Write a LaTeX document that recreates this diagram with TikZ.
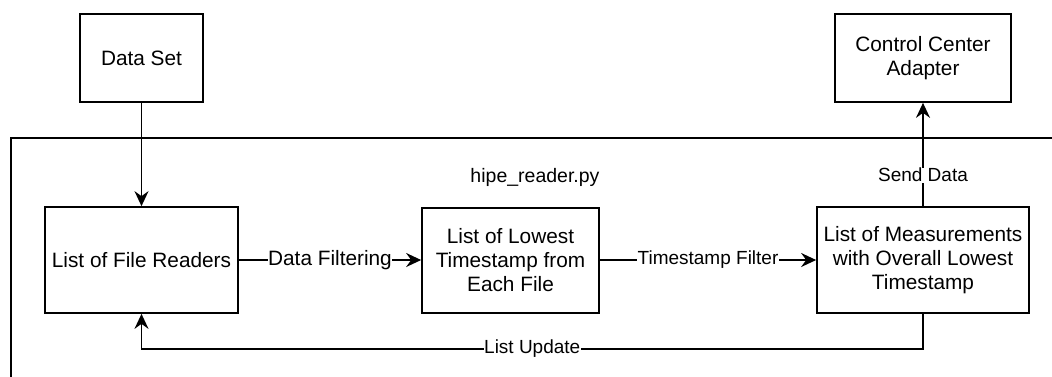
\documentclass[tikz,border=0pt]{standalone}
\usepackage{fontspec}
\setmainfont{Liberation Sans}
\usetikzlibrary{arrows.meta}
\begin{document}
\begin{tikzpicture}[x=1pt,y=-1pt,
  box/.style={draw,line width=1.7pt,inner sep=0pt,align=center,font=\fontsize{20.8}{24}\selectfont},
  conn/.style={line width=1.7pt,-{Stealth[length=15pt,width=14pt,inset=5pt]}},
  lbl/.style={fill=white,inner sep=0.5pt,font=\fontsize{19}{22}\selectfont},
  biglbl/.style={fill=white,inner sep=0.5pt,font=\fontsize{20.8}{24}\selectfont}]
\clip (0,0) rectangle (1052,376);
% container (extends past the right and bottom edges)
\node[draw,line width=1.7pt,minimum width=1100pt,minimum height=300pt,inner sep=0pt,anchor=north west] (container) at (10,137) {};
\node[font=\fontsize{19.5}{22}\selectfont] (title) at (535,177) {hipe\_reader.py};
% boxes
\node[box,minimum width=123pt,minimum height=88pt] (ds) at (141.5,58) {Data Set};
\node[box,minimum width=176pt,minimum height=88pt] (cca) at (923,58) {Control Center\\Adapter};
\node[box,minimum width=193pt,minimum height=106pt] (fr) at (141.5,260) {List of File Readers};
\node[box,minimum width=177pt,minimum height=105pt] (low) at (510.5,260.5) {List of Lowest\\Timestamp from\\Each File};
\node[box,minimum width=212pt,minimum height=106pt] (meas) at (923,260) {List of Measurements\\with Overall Lowest\\Timestamp};
% connectors
\draw[conn] (ds) -- (fr);
\draw[conn] (fr.east) -- node[biglbl] {Data Filtering} (low.west |- fr.east);
\draw[conn] (low.east |- meas.west) -- node[lbl] {Timestamp Filter} (meas.west);
\draw[conn] (meas.north) -- node[lbl,pos=0.3] {Send Data} (cca.south);
\draw[conn] (meas.south) -- ++(0,35) -| node[lbl,pos=0.25] {List Update} (fr.south);
\end{tikzpicture}
\end{document}
